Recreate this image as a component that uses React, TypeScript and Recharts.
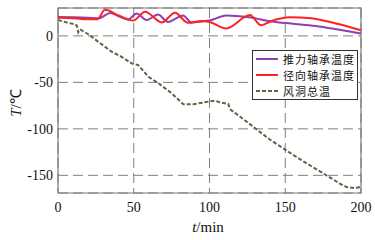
import React from 'react';
import { LineChart, Line, XAxis, YAxis, CartesianGrid, ReferenceArea, Legend } from 'recharts';

const xTicks = [0, 50, 100, 150, 200];
const yTicks = [-150, -100, -50, 0];

const thrustT = [0, 10, 20, 27, 34.5, 41, 46, 52, 58.5, 66, 72.6, 78, 82.6, 88, 95, 100, 111, 126, 141, 154, 170, 185, 200];
const thrustV = [20.3, 20, 19.5, 19, 24.5, 20.5, 17.5, 24, 17, 23, 15, 19, 22, 14.5, 15.5, 16.5, 22, 20, 15.6, 13.3, 10.7, 6.8, 2.5];

const radialT = [0, 10, 20, 26, 31, 40, 49.7, 57.4, 68.5, 77.2, 85.8, 94.5, 100, 111, 126.7, 134, 141, 153, 167, 185, 200];
const radialV = [19.5, 19, 18, 18, 28, 22, 16.5, 26, 14.5, 25, 14, 16, 15, 8, 22.5, 11.5, 16, 20, 19, 12.7, 6];

const tunnelT = [0, 6.8, 11.2, 12.5, 13.4, 14.5, 20, 26.6, 35.4, 42, 48.6, 53, 59.7, 66.3, 75, 82.7, 89.3, 96, 100, 103.6, 107, 112.4, 113.5, 120, 130, 140, 150, 162, 177.4, 186, 190.5, 196, 200];
const tunnelV = [17, 14, 12.5, 11, 4, 7, 1.8, -6.4, -17, -22.5, -29.6, -31.4, -44, -51, -61.7, -73.5, -73.5, -71.7, -70.5, -69.6, -71.7, -73.1, -78.8, -86.7, -99.1, -111.7, -122.4, -135, -150.2, -158.8, -162.7, -163.8, -162.3];

const seriesNames = ['推力轴承温度', '径向轴承温度', '风洞总温'];
const seriesColors = ['#8e3fb4', '#ff2222', '#5d6645'];

const thrustData = thrustT.map((t, i) => ({ t, v: thrustV[i] }));
const radialData = radialT.map((t, i) => ({ t, v: radialV[i] }));
const tunnelData = tunnelT.map((t, i) => ({ t, v: tunnelV[i] }));

const serif = '"Liberation Serif", "Times New Roman", serif';
const cjk = '"Noto Sans CJK SC", sans-serif';

const LegendBox = () => (
  <div
    style={{
      width: 106,
      height: 50,
      boxSizing: 'border-box',
      border: '1px solid #333',
      background: '#fff',
      paddingTop: 0,
    }}
  >
    {seriesNames.map((name, i) => (
      <div key={name} style={{ display: 'flex', alignItems: 'center', height: 16 }}>
        <svg width={30} height={16} style={{ flex: 'none' }}>
          <line
            x1={3}
            x2={25}
            y1={8}
            y2={8}
            stroke={seriesColors[i]}
            strokeWidth={2}
            strokeDasharray={i === 2 ? '4 2' : undefined}
          />
        </svg>
        <span
          style={{
            fontFamily: cjk,
            fontSize: 11,
            letterSpacing: 1,
            lineHeight: '16px',
            color: '#111',
            whiteSpace: 'nowrap',
          }}
        >
          {name}
        </span>
      </div>
    ))}
  </div>
);

export default function App() {
  return (
    <div style={{ position: 'absolute', left: 0, top: 0, width: 375, height: 240, background: '#fff' }}>
      <LineChart width={375} height={240} margin={{ top: 8, right: 14, bottom: 0, left: 0 }}>
        <CartesianGrid stroke="#808080" strokeDasharray="10 5" />
        <XAxis
          dataKey="t"
          type="number"
          domain={[0, 200]}
          ticks={xTicks}
          tickSize={0}
          tickMargin={9}
          axisLine={false}
          height={47}
          tick={{ fill: '#111', fontSize: 14, fontFamily: serif }}
          allowDuplicatedCategory={false}
        />
        <YAxis
          type="number"
          domain={[-169, 30]}
          ticks={yTicks}
          tickSize={0}
          tickMargin={5}
          axisLine={false}
          width={58}
          allowDataOverflow
          tick={{ fill: '#111', fontSize: 14, fontFamily: serif }}
        />
        <ReferenceArea x1={0} x2={200} y1={-169} y2={30} fill="none" stroke="#7a7a7a" strokeWidth={1.2} />
        <Line
          data={tunnelData}
          dataKey="v"
          type="linear"
          stroke={seriesColors[2]}
          strokeWidth={2}
          strokeDasharray="4 2"
          dot={false}
          isAnimationActive={false}
          name={seriesNames[2]}
        />
        <Line
          data={thrustData}
          dataKey="v"
          type="monotone"
          stroke={seriesColors[0]}
          strokeWidth={2}
          dot={false}
          isAnimationActive={false}
          name={seriesNames[0]}
        />
        <Line
          data={radialData}
          dataKey="v"
          type="monotone"
          stroke={seriesColors[1]}
          strokeWidth={2}
          dot={false}
          isAnimationActive={false}
          name={seriesNames[1]}
        />
        <Legend
          layout="vertical"
          align="center"
          verticalAlign="middle"
          content={() => <LegendBox />}
          wrapperStyle={{ position: 'absolute', left: 252, top: 50, width: 106, height: 50 }}
        />
      </LineChart>
      <div
        style={{
          position: 'absolute',
          left: 15,
          top: 103,
          transform: 'translate(-50%, -50%) rotate(-90deg)',
          fontFamily: serif,
          fontSize: 15,
          whiteSpace: 'nowrap',
          color: '#111',
        }}
      >
        <i>T</i>/℃
      </div>
      <div
        style={{
          position: 'absolute',
          left: 208,
          top: 227,
          transform: 'translate(-50%, -50%)',
          fontFamily: serif,
          fontSize: 15,
          whiteSpace: 'nowrap',
          color: '#111',
        }}
      >
        <i>t</i>/min
      </div>
    </div>
  );
}
